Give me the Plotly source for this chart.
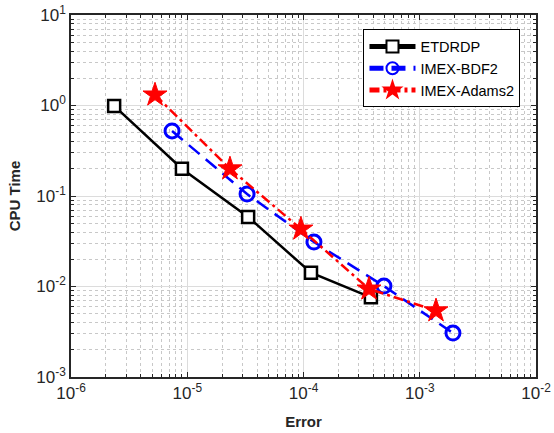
import plotly.graph_objects as go

etd_err = [2.35e-6, 9.0e-6, 3.34e-5, 1.16e-4, 3.8e-4]
etd_cpu = [0.99, 0.20, 0.0586, 0.0142, 0.0076]
bdf_err = [7.4e-6, 3.27e-5, 1.23e-4, 4.92e-4, 1.93e-3]
bdf_cpu = [0.523, 0.105, 0.031, 0.0101, 0.00306]
ad_err = [5.28e-6, 2.33e-5, 9.5e-5, 3.66e-4, 1.38e-3]
ad_cpu = [1.31, 0.20, 0.0432, 0.0094, 0.0054]

x_ticks = [1e-6, 1e-5, 1e-4, 1e-3, 1e-2]
x_text = ["10<sup>-6</sup>", "10<sup>-5</sup>", "10<sup>-4</sup>", "10<sup>-3</sup>", "10<sup>-2</sup>"]
y_ticks = [1e-3, 1e-2, 1e-1, 1e0, 1e1]
y_text = ["10<sup>-3</sup>", "10<sup>-2</sup>", "10<sup>-1</sup>", "10<sup>0</sup>", "10<sup>1</sup>"]

def minor_vals(decades):
    return [m * d for d in decades[:-1] for m in range(2, 10)]

axis_common = dict(
    type="log", showline=True, linecolor="#262626", linewidth=1.5, mirror="allticks",
    ticks="inside", ticklen=5, tickcolor="#262626", tickwidth=1, automargin=False,
    showgrid=True, gridcolor="#dcdcdc", gridwidth=1, zeroline=False,
    tickfont=dict(family="Liberation Sans, Arial", size=17, color="#262626"),
)

def minor_cfg(decades):
    return dict(tickvals=minor_vals(decades), ticks="inside", ticklen=3, tickcolor="#262626",
                showgrid=True, gridcolor="#c8c8c8", griddash="dot", gridwidth=1)

fig = go.Figure()
fig.add_trace(go.Scatter(x=etd_err, y=etd_cpu, name="ETDRDP", mode="lines+markers",
                         line=dict(color="black", width=2.5, dash="solid"),
                         marker=dict(symbol="square", size=12, color="white",
                                     line=dict(color="black", width=2.5))))
fig.add_trace(go.Scatter(x=bdf_err, y=bdf_cpu, name="IMEX-BDF2", mode="lines+markers",
                         line=dict(color="#0000ff", width=2.5, dash="14px,8px"),
                         marker=dict(symbol="circle-open", size=14,
                                     line=dict(color="#0000ff", width=3))))
fig.add_trace(go.Scatter(x=ad_err, y=ad_cpu, name="IMEX-Adams2", mode="lines+markers",
                         line=dict(color="#ff0000", width=2.5, dash="10px,4px,3px,4px"),
                         marker=dict(symbol="star", size=18, color="#ff0000",
                                     line=dict(color="#ff0000", width=1))))

fig.update_layout(
    width=554, height=433,
    margin=dict(l=71, r=18, t=15, b=56, autoexpand=False),
    paper_bgcolor="white", plot_bgcolor="white",
    font=dict(family="Liberation Sans, Arial", color="#262626"),
    xaxis=dict(axis_common, range=[-6, -2], tickvals=x_ticks, ticktext=x_text,
               minor=minor_cfg(x_ticks),
               title=dict(text="<b>Error</b>", font=dict(size=15, color="#262626"), standoff=14)),
    yaxis=dict(axis_common, range=[-3, 1], tickvals=y_ticks, ticktext=y_text,
               minor=minor_cfg(y_ticks),
               title=dict(text="<b>CPU Time</b>", font=dict(size=15, color="#262626"), standoff=12)),
    legend=dict(x=0.629, y=0.96, xanchor="left", yanchor="top",
                bgcolor="white", bordercolor="black", borderwidth=1,
                font=dict(size=14.5, color="black"), tracegroupgap=0, itemwidth=46,
                itemsizing="constant"),
    showlegend=True,
)

fig.write_html("out.html")
